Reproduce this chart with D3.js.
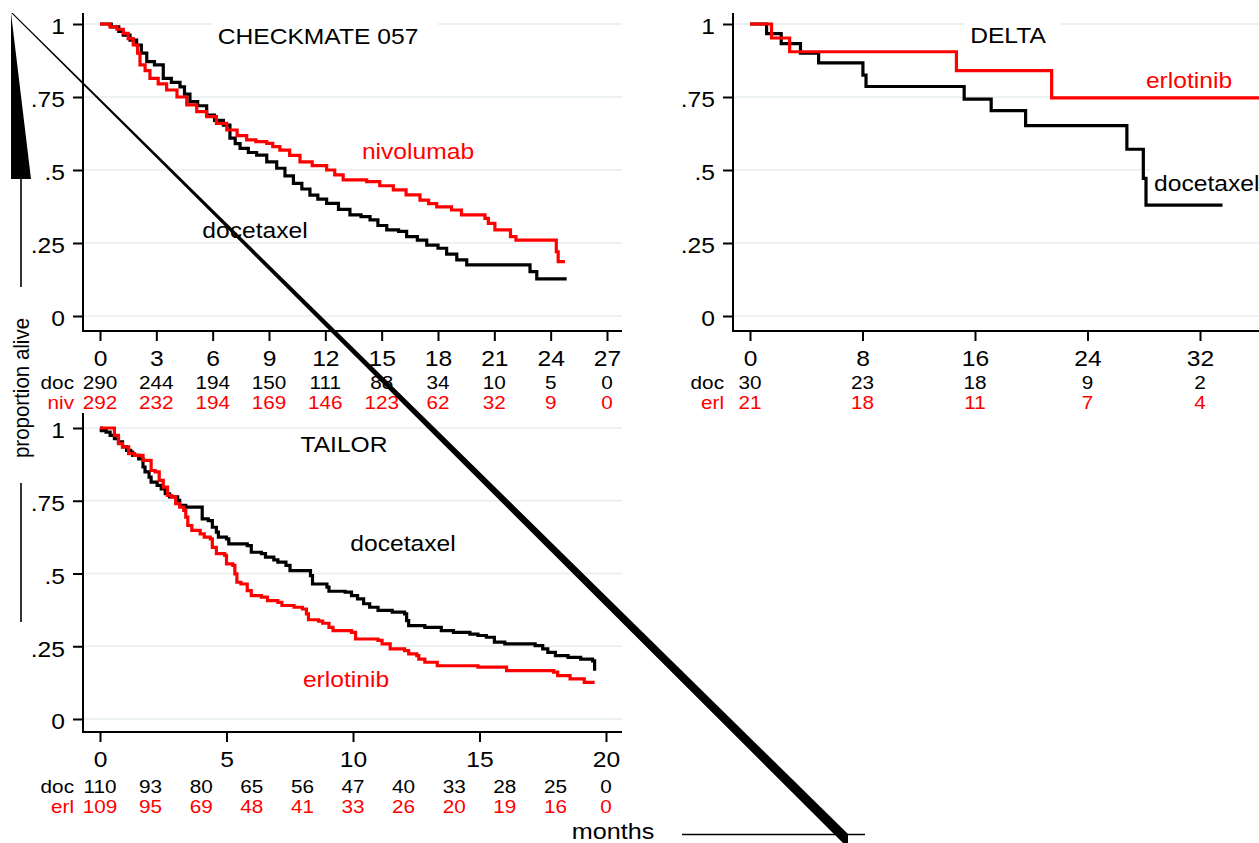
<!DOCTYPE html>
<html><head><meta charset="utf-8">
<script src="https://cdn.jsdelivr.net/npm/d3@7"></script>
<style>
body{margin:0;background:#fff}
svg{display:block}
text{font-family:"Liberation Sans",Arial,Helvetica,sans-serif}
</style></head>
<body><svg id="c" width="1259" height="843"></svg>
<script>
// ---------------- data ----------------
const yTickValues = [0, 0.25, 0.5, 0.75, 1];
const yTickLabels = ["0", ".25", ".5", ".75", "1"];

// CHECKMATE 057
const cmTitle = "CHECKMATE 057";
const cmXTicks = [0, 3, 6, 9, 12, 15, 18, 21, 24, 27];
const cmRiskMonths = [0, 3, 6, 9, 12, 15, 18, 21, 24, 27];
const cmRiskDoc = [290, 244, 194, 150, 111, 88, 34, 10, 5, 0];
const cmRiskNiv = [292, 232, 194, 169, 146, 123, 62, 32, 9, 0];
const cmDocCurve = [[0,1],[0.6,0.99],[1.0,0.975],[1.24,0.962],[1.6,0.945],[1.95,0.928],[2.2,0.9],[2.49,0.871],[2.9,0.86],[3.37,0.814],[3.8,0.8],[4.26,0.785],[4.5,0.76],[4.79,0.734],[5.2,0.72],[5.68,0.688],[6.1,0.67],[6.57,0.654],[6.92,0.609],[7.2,0.59],[7.46,0.574],[7.9,0.56],[8.34,0.551],[8.88,0.528],[9.41,0.506],[9.85,0.48],[10.3,0.454],[10.75,0.435],[11.18,0.414],[11.6,0.4],[12.07,0.386],[12.7,0.365],[13.31,0.346],[13.9,0.34],[14.38,0.329],[14.8,0.31],[15.27,0.295],[15.9,0.29],[16.33,0.272],[16.9,0.26],[17.4,0.243],[18.0,0.232],[18.46,0.212],[19.0,0.192],[19.53,0.175],[22.9,0.152],[23.26,0.127],[24.85,0.127]];
const cmNivCurve = [[0,1],[0.53,0.99],[0.9,0.982],[1.24,0.968],[1.5,0.95],[1.77,0.928],[2.0,0.9],[2.13,0.86],[2.4,0.84],[2.66,0.814],[3.1,0.795],[3.55,0.774],[4.1,0.75],[4.62,0.723],[5.15,0.7],[5.68,0.683],[6.2,0.66],[6.75,0.637],[7.3,0.618],[7.81,0.603],[8.3,0.597],[8.88,0.591],[9.2,0.58],[9.58,0.568],[10.1,0.55],[10.65,0.528],[11.3,0.515],[12.07,0.5],[12.5,0.483],[12.95,0.466],[14.2,0.46],[14.9,0.446],[15.62,0.432],[16.3,0.415],[17.04,0.397],[17.5,0.385],[17.93,0.374],[18.72,0.363],[19.25,0.346],[20.5,0.334],[20.68,0.317],[21.03,0.295],[21.86,0.272],[22.15,0.26],[24.3,0.22],[24.4,0.186],[24.76,0.186]];

// DELTA
const deltaTitle = "DELTA";
const deltaXTicks = [0, 8, 16, 24, 32];
const deltaRiskMonths = [0, 8, 16, 24, 32];
const deltaRiskDoc = [30, 23, 18, 9, 2];
const deltaRiskErl = [21, 18, 11, 7, 4];
const deltaDocCurve = [[0,1],[1.18,0.967],[2.22,0.933],[3.59,0.9],[4.88,0.867],[8.03,0.825],[8.25,0.786],[15.23,0.743],[17.15,0.703],[19.6,0.652],[26.8,0.571],[27.97,0.471],[28.16,0.38],[33.6,0.38]];
const deltaErlCurve = [[0,1],[1.53,0.952],[2.82,0.905],[14.68,0.84],[21.45,0.747],[36.3,0.747]];

// TAILOR
const tailorTitle = "TAILOR";
const tailorXTicks = [0, 5, 10, 15, 20];
const tailorRiskMonths = [0, 2, 4, 6, 8, 10, 12, 14, 16, 18, 20];
const tailorRiskDoc = [110, 93, 80, 65, 56, 47, 40, 33, 28, 25, 0];
const tailorRiskErl = [109, 95, 69, 48, 41, 33, 26, 20, 19, 16, 0];
const tailorDocCurve = [[0,1],[0.05,0.991],[0.24,0.986],[0.4,0.975],[0.57,0.963],[0.73,0.952],[0.89,0.935],[1.05,0.923],[1.21,0.917],[1.29,0.906],[1.53,0.894],[1.7,0.866],[1.78,0.849],[1.94,0.831],[2.02,0.814],[2.26,0.803],[2.42,0.791],[2.58,0.774],[2.75,0.763],[3.07,0.751],[3.15,0.734],[3.39,0.728],[4.04,0.688],[4.28,0.682],[4.44,0.659],[4.6,0.642],[4.68,0.625],[5.0,0.619],[5.09,0.602],[5.82,0.596],[5.98,0.573],[6.38,0.568],[6.54,0.556],[6.87,0.547],[7.03,0.539],[7.35,0.528],[7.51,0.51],[8.32,0.493],[8.4,0.464],[8.97,0.453],[9.05,0.439],[9.69,0.436],[9.94,0.424],[10.18,0.413],[10.42,0.396],[10.66,0.384],[10.99,0.373],[11.55,0.367],[12.04,0.361],[12.12,0.338],[12.2,0.321],[12.84,0.315],[13.49,0.304],[13.97,0.298],[14.62,0.292],[14.94,0.287],[15.27,0.281],[15.59,0.264],[16.0,0.258],[17.2,0.252],[17.5,0.241],[17.7,0.229],[18.0,0.218],[18.5,0.212],[19.0,0.206],[19.47,0.2],[19.55,0.166]];
const tailorErlCurve = [[0,1],[0.57,0.975],[0.73,0.946],[0.89,0.935],[1.13,0.912],[1.37,0.906],[1.7,0.889],[2.02,0.854],[2.18,0.849],[2.34,0.82],[2.5,0.797],[2.67,0.768],[2.83,0.763],[2.99,0.74],[3.15,0.728],[3.31,0.717],[3.39,0.694],[3.47,0.665],[3.63,0.648],[3.96,0.636],[4.12,0.625],[4.36,0.619],[4.44,0.59],[4.6,0.568],[4.93,0.562],[5.0,0.533],[5.25,0.528],[5.33,0.499],[5.41,0.47],[5.57,0.464],[5.82,0.441],[5.98,0.424],[6.38,0.419],[6.62,0.407],[7.03,0.401],[7.19,0.39],[7.67,0.384],[8.0,0.378],[8.16,0.361],[8.24,0.341],[8.64,0.336],[8.8,0.329],[9.05,0.315],[9.21,0.304],[9.94,0.298],[10.1,0.275],[10.99,0.27],[11.15,0.258],[11.47,0.241],[12.04,0.235],[12.2,0.224],[12.52,0.218],[12.6,0.206],[12.84,0.195],[13.33,0.183],[14.94,0.178],[16.07,0.166],[17.93,0.161],[18.09,0.149],[18.58,0.138],[19.14,0.126],[19.55,0.126]];

const yAxisTitle = "proportion alive";
const xAxisTitle = "months";

// ---------------- drawing ----------------
const SX = 1.12;            // horizontal stretch of the original's lettering
const RED = "#ff0000", BLACK = "#000000", GRID = "#e6edf0";
const svg = d3.select("#c");

function label(g, x, y, s, o = {}) {
  const size = o.size || 22;
  return g.append("text")
    .attr("transform", `translate(${x},${y + 0.36 * size}) scale(${SX},1)`)
    .attr("text-anchor", o.anchor || "middle")
    .attr("fill", o.fill || BLACK)
    .style("font-size", size + "px")
    .text(s);
}

function panel(cfg) {
  const g = svg.append("g");
  const x = d3.scaleLinear().domain(cfg.xDomain).range(cfg.xRange);
  const y = d3.scaleLinear().domain([0, 1]).range(cfg.yRange);

  // grid
  g.append("g").selectAll("line").data(yTickValues).join("line")
    .attr("x1", cfg.axisX + 1).attr("x2", cfg.gridRight)
    .attr("y1", d => y(d)).attr("y2", d => y(d))
    .attr("stroke", GRID).attr("stroke-width", 1.6);

  // white boxes behind labels
  cfg.boxes.forEach(b => g.append("rect").attr("x", b[0]).attr("y", b[1])
    .attr("width", b[2]).attr("height", b[3]).attr("fill", "#fff"));

  // survival curves
  const line = d3.line().x(d => x(d[0])).y(d => y(d[1])).curve(d3.curveStepAfter);
  cfg.curves.forEach(c => g.append("path").datum(c.data)
    .attr("d", line).attr("fill", "none").attr("stroke", c.color)
    .attr("stroke-width", 3.2).attr("stroke-linejoin", "miter"));

  // axis lines
  g.append("line").attr("x1", cfg.axisX).attr("x2", cfg.axisX)
    .attr("y1", cfg.yTop).attr("y2", cfg.axisY + 1).attr("stroke", BLACK).attr("stroke-width", 2);
  g.append("line").attr("x1", cfg.axisX - 1).attr("x2", cfg.gridRight)
    .attr("y1", cfg.axisY).attr("y2", cfg.axisY).attr("stroke", BLACK).attr("stroke-width", 2);

  // y axis
  const ya = g.append("g").attr("transform", `translate(${cfg.axisX},0)`)
    .call(d3.axisLeft(y).tickValues(yTickValues)
      .tickFormat((d, i) => yTickLabels[i]).tickSize(10).tickPadding(8));
  ya.select(".domain").remove();
  ya.selectAll(".tick line").attr("stroke-width", 2);
  ya.selectAll("text").style("font-size", "22px").attr("fill", BLACK)
    .attr("x", -18 / SX).attr("dy", "0.45em").attr("transform", `scale(${SX},1)`)
    .style("font-family", '"Liberation Sans",Arial,sans-serif');

  // x axis
  const xa = g.append("g").attr("transform", `translate(0,${cfg.axisY})`)
    .call(d3.axisBottom(x).tickValues(cfg.xTicks).tickFormat(d3.format("d"))
      .tickSize(10).tickPadding(9));
  xa.select(".domain").remove();
  xa.selectAll(".tick line").attr("stroke-width", 2);
  xa.selectAll("text").style("font-size", "22px").attr("fill", BLACK)
    .attr("transform", `scale(${SX},1)`)
    .style("font-family", '"Liberation Sans",Arial,sans-serif');

  // numbers at risk
  cfg.risk.forEach(r => {
    label(g, cfg.axisX - 9, r.y, r.name, { size: 18.5, anchor: "end", fill: r.color });
    r.values.forEach((v, i) => label(g, x(cfg.riskMonths[i]), r.y, String(v), { size: 18.5, fill: r.color }));
  });

  // in-plot labels
  cfg.labels.forEach(l => label(g, l.x, l.y, l.text,
    { size: 22, fill: l.color, anchor: l.anchor || "middle" }));
}

// CHECKMATE 057
panel({
  xDomain: [0, 27], xRange: [100, 607], yRange: [316, 24],
  axisX: 83, axisY: 331, yTop: 13, gridRight: 622,
  xTicks: cmXTicks, riskMonths: cmRiskMonths,
  boxes: [[212, 17, 226, 38]],
  curves: [{ data: cmDocCurve, color: BLACK }, { data: cmNivCurve, color: RED }],
  risk: [{ name: "doc", values: cmRiskDoc, color: BLACK, y: 382 },
         { name: "niv", values: cmRiskNiv, color: RED, y: 402 }],
  labels: [{ text: cmTitle, x: 318, y: 36, color: BLACK },
           { text: "nivolumab", x: 418, y: 151, color: RED },
           { text: "docetaxel", x: 255, y: 230, color: BLACK }]
});

// DELTA
panel({
  xDomain: [0, 32], xRange: [750, 1200], yRange: [316, 24],
  axisX: 733, axisY: 331, yTop: 13, gridRight: 1259,
  xTicks: deltaXTicks, riskMonths: deltaRiskMonths,
  boxes: [[965, 17, 96, 36], [1150, 165, 109, 36]],
  curves: [{ data: deltaDocCurve, color: BLACK }, { data: deltaErlCurve, color: RED }],
  risk: [{ name: "doc", values: deltaRiskDoc, color: BLACK, y: 382 },
         { name: "erl", values: deltaRiskErl, color: RED, y: 402 }],
  labels: [{ text: deltaTitle, x: 1008, y: 35, color: BLACK },
           { text: "erlotinib", x: 1189, y: 80, color: RED },
           { text: "docetaxel", x: 1154, y: 183, color: BLACK, anchor: "start" }]
});

// TAILOR
panel({
  xDomain: [0, 20], xRange: [100, 606], yRange: [719, 428],
  axisX: 83, axisY: 732, yTop: 413, gridRight: 622,
  xTicks: tailorXTicks, riskMonths: tailorRiskMonths,
  boxes: [],
  curves: [{ data: tailorDocCurve, color: BLACK }, { data: tailorErlCurve, color: RED }],
  risk: [{ name: "doc", values: tailorRiskDoc, color: BLACK, y: 786 },
         { name: "erl", values: tailorRiskErl, color: RED, y: 806 }],
  labels: [{ text: tailorTitle, x: 344, y: 444, color: BLACK },
           { text: "docetaxel", x: 403, y: 543, color: BLACK },
           { text: "erlotinib", x: 346, y: 679, color: RED }]
});

// ---------------- shared axis titles and their skewed arrow ----------------
const deco = svg.append("g");
deco.append("path").attr("d", "M11,13 L11,179 L31,179 Z").attr("fill", BLACK);
deco.append("line").attr("x1", 21).attr("x2", 21).attr("y1", 179).attr("y2", 287)
  .attr("stroke", BLACK).attr("stroke-width", 1.6);
deco.append("line").attr("x1", 21).attr("x2", 21).attr("y1", 483).attr("y2", 622)
  .attr("stroke", BLACK).attr("stroke-width", 1.6);
deco.append("text")
  .attr("transform", `translate(23,388) rotate(-90) scale(1,${SX})`)
  .attr("y", 0.26 * 20.5).attr("text-anchor", "middle")
  .style("font-size", "20.5px").attr("fill", BLACK).text(yAxisTitle);
label(deco, 613, 831, xAxisTitle, { size: 22.5 });
deco.append("line").attr("x1", 682).attr("x2", 865).attr("y1", 834.5).attr("y2", 834.5)
  .attr("stroke", BLACK).attr("stroke-width", 1.6);
deco.append("path").attr("d", "M11.25,13 L12.75,13 L848,834 L848,843 L843,843 Z").attr("fill", BLACK);
</script>
</body></html>
